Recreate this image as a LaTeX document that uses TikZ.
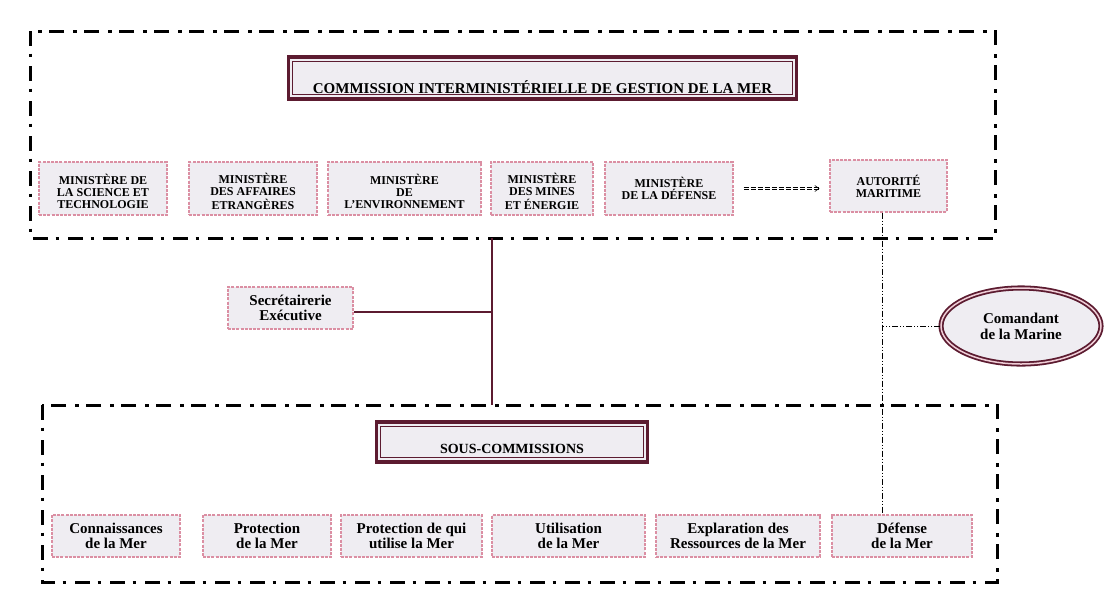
\documentclass[tikz,border=0pt]{standalone}
\usepackage{fontspec}
\setmainfont{Liberation Serif}
\usetikzlibrary{shapes.geometric,arrows.meta}
\definecolor{mar}{HTML}{5C1B30}
\definecolor{pinkb}{HTML}{DB8FA3}
\definecolor{boxfill}{HTML}{EFEDF2}
\newcommand\lowtext[2]{\raisebox{-#1}[\height][\depth]{\begin{tabular}{@{}c@{}}#2\end{tabular}}}
\tikzset{
  bigframe/.style={line width=3pt, dash pattern=on 15pt off 7.5pt on 3.5pt off 9pt},
  minbox/.style={draw=pinkb, fill=boxfill, line width=1.3pt, dash pattern=on 3pt off 1.2pt,
    align=center, inner sep=0pt, minimum height=53pt,
    font=\bfseries\fontsize{12}{12}\selectfont},
  subbox/.style={minbox, minimum height=42pt, font=\bfseries\fontsize{15}{15}\selectfont},
  titlebox/.style={draw=mar, fill=boxfill, line width=3.5pt, inner sep=3pt, text depth=2pt},
  innerline/.style={draw=mar, line width=1.2pt},
  link/.style={draw=mar, line width=2.6pt},
  thinlink/.style={line width=0.8pt, dash pattern=on 6pt off 2pt on 1pt off 2pt on 1pt off 2pt},
  dasharrow/.style={line width=0.6pt, double, double distance=1.4pt, dash pattern=on 5pt off 2pt,
    -{Straight Barb[length=4pt,width=6pt]}, shorten <=10pt, shorten >=10pt},
  cmell/.style={ellipse, draw=mar, line width=1.8pt, double=pinkb!45!white, double distance=1.5pt,
    fill=boxfill, inner sep=0pt, minimum width=160pt, minimum height=76pt, align=center,
    font=\bfseries\fontsize{15}{16}\selectfont},
}
\begin{document}
\begin{tikzpicture}[x=1pt,y=-1pt]
\useasboundingbox (0,0) rectangle (1105,590);
\fill[white] (0,0) rectangle (1105,590);

% frames
\draw[bigframe] (30,31) rectangle (995,238);
\draw[bigframe] (42,405) rectangle (997,582);

% title boxes
\node[titlebox, minimum width=508pt, minimum height=42pt, text height=32pt,
  font=\bfseries\fontsize{15}{16}\selectfont] (cim) at (542.5,78)
  {COMMISSION INTERMINISTÉRIELLE DE GESTION DE LA MER};
\draw[innerline] ([shift={(6,6)}]cim.north west) rectangle ([shift={(-6,-6)}]cim.south east);

\node[titlebox, minimum width=271pt, minimum height=40pt, text height=24pt,
  font=\bfseries\fontsize{14}{15}\selectfont] (sc) at (512,442) {SOUS-COMMISSIONS};
\draw[innerline] ([shift={(6,6)}]sc.north west) rectangle ([shift={(-6,-6)}]sc.south east);

% ministries
\node[minbox, minimum width=128pt] (m1) at (103,188.5) {\lowtext{5pt}{MINISTÈRE DE\\LA SCIENCE ET\\TECHNOLOGIE}};
\node[minbox, minimum width=128pt] (m2) at (253,188.5) {\lowtext{5pt}{MINISTÈRE\\DES AFFAIRES\\ETRANGÈRES}};
\node[minbox, minimum width=153pt] (m3) at (404.5,188.5) {\lowtext{5pt}{MINISTÈRE\\DE\\L'ENVIRONNEMENT}};
\node[minbox, minimum width=102pt] (m4) at (542,188.5) {\lowtext{5pt}{MINISTÈRE\\DES MINES\\ET ÉNERGIE}};
\node[minbox, minimum width=128pt] (m5) at (669,188.5) {MINISTÈRE\\DE LA DÉFENSE};
\node[minbox, minimum width=117pt, minimum height=52pt] (aut) at (888.5,186) {AUTORITÉ\\MARITIME};

\draw[dasharrow] (m5.east) -- (m5.east -| aut.west);

% secretariat
\node[subbox, minimum width=125pt, font=\bfseries\fontsize{15}{14.5}\selectfont] (secr) at (290.5,308) {Secrétairerie\\Exécutive};

% sub-commissions
\node[subbox, minimum width=128pt] (s1) at (116,536) {Connaissances\\de la Mer};
\node[subbox, minimum width=128pt] (s2) at (267,536) {Protection\\de la Mer};
\node[subbox, minimum width=141pt] (s3) at (411.5,536) {Protection de qui\\utilise la Mer};
\node[subbox, minimum width=153pt] (s4) at (568.5,536) {Utilisation\\de la Mer};
\node[subbox, minimum width=164pt] (s5) at (738,536) {Explaration des\\Ressources de la Mer};
\node[subbox, minimum width=140pt] (s6) at (902,536) {Défense\\de la Mer};

% commandant
\node[cmell] (cm) at (1021,326) {Comandant\\de la Marine};

% connectors
\coordinate (vt) at (492,238);
\coordinate (vb) at (492,405);
\draw[link] (vt) -- (vb);
\draw[link] ([yshift=-4pt]secr.east) -- ([yshift=-4pt]secr.east -| vt);

\coordinate (dl) at (882,0);
\draw[thinlink] (aut.south -| dl) -- (s6.north -| dl);
\draw[thinlink] (cm.west) -- (cm.west -| dl);
\end{tikzpicture}
\end{document}
